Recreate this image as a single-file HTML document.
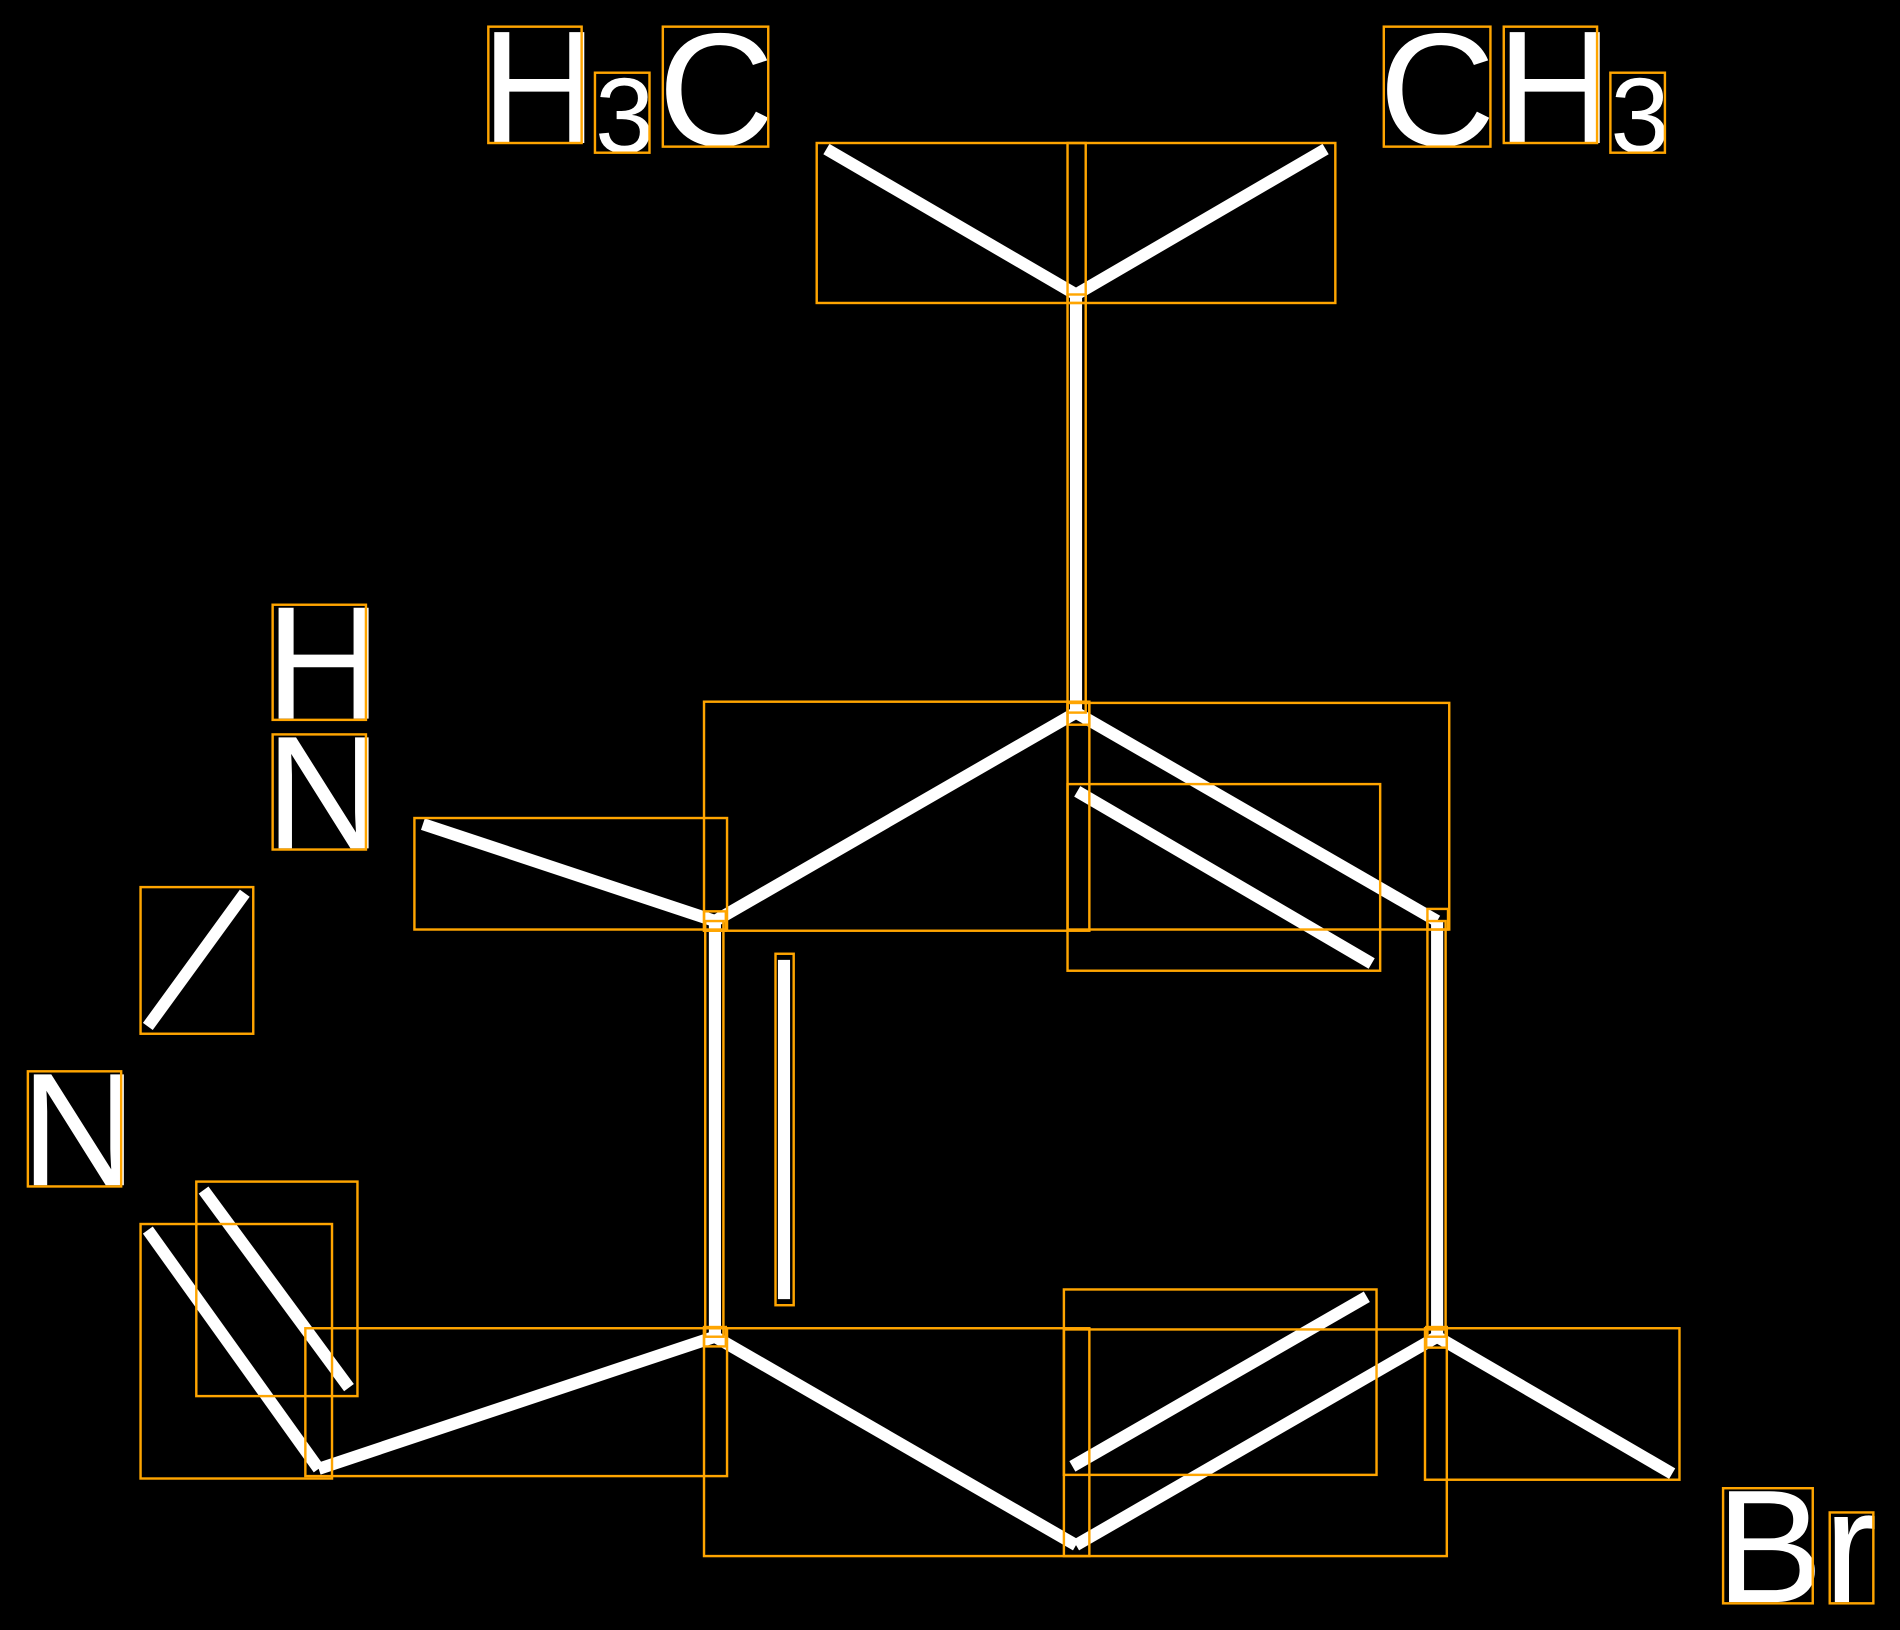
<!DOCTYPE html>
<html><head><meta charset="utf-8"><style>html,body{margin:0;padding:0;background:#000}svg{display:block}</style></head>
<body>
<svg width="1900" height="1630" viewBox="0 0 1568 1345" preserveAspectRatio="none" xmlns="http://www.w3.org/2000/svg">
<rect width="1568" height="1345" fill="#000"/>
<g stroke="#fff" stroke-width="10" fill="none">
<line x1="682" y1="123" x2="888" y2="243"/>
<line x1="888" y1="243" x2="1094" y2="123"/>
<line x1="888" y1="243" x2="888" y2="588"/>
<line x1="590" y1="760" x2="888" y2="588"/>
<line x1="888" y1="588" x2="1186" y2="760"/>
<line x1="889" y1="653" x2="1132" y2="795"/>
<line x1="590" y1="760" x2="590" y2="1103"/>
<line x1="647" y1="792" x2="647" y2="1072"/>
<line x1="1186" y1="760" x2="1186" y2="1103"/>
<line x1="590" y1="1103" x2="888" y2="1275"/>
<line x1="888" y1="1275" x2="1186" y2="1103"/>
<line x1="885" y1="1210" x2="1128" y2="1070"/>
<line x1="1186" y1="1103" x2="1380" y2="1216"/>
<line x1="590" y1="760" x2="349" y2="680"/>
<line x1="590" y1="1103" x2="263" y2="1212"/>
<line x1="263" y1="1212" x2="122" y2="1015"/>
<line x1="168" y1="982" x2="288" y2="1145"/>
<line x1="122" y1="847" x2="202" y2="737"/>
</g>
<g fill="#fff" font-family="Liberation Sans, sans-serif" font-size="133">
<text x="397" y="118">H</text>
<text x="491" y="126" font-size="88">3</text>
<text x="543" y="120">C</text>
<text x="1138" y="120">C</text>
<text x="1235" y="118">H</text>
<text x="1329" y="126" font-size="88">3</text>
<text x="219" y="593">H</text>
<text x="219" y="700">N</text>
<text x="17" y="978">N</text>
<text x="1416" y="1322">B</text>
<text x="1505" y="1322">r</text>
</g>
<g stroke="#FFA500" stroke-width="2" fill="none">
<rect x="403" y="22" width="77" height="96"/>
<rect x="491" y="60" width="45" height="66"/>
<rect x="547" y="22" width="87" height="99"/>
<rect x="1142" y="22" width="88" height="99"/>
<rect x="1241" y="22" width="77" height="96"/>
<rect x="1329" y="60" width="45" height="66"/>
<rect x="674" y="118" width="428" height="132"/>
<rect x="881" y="118" width="15" height="132"/>
<rect x="881" y="243" width="15" height="345"/>
<rect x="581" y="579" width="318" height="189"/>
<rect x="881" y="580" width="315" height="187"/>
<rect x="881" y="647" width="258" height="154"/>
<rect x="342" y="675" width="258" height="92"/>
<rect x="225" y="499" width="77" height="95"/>
<rect x="225" y="606" width="77" height="95"/>
<rect x="116" y="732" width="93" height="121"/>
<rect x="23" y="884" width="77" height="95"/>
<rect x="162" y="975" width="133" height="177"/>
<rect x="116" y="1010" width="158" height="210"/>
<rect x="252" y="1096" width="348" height="122"/>
<rect x="581" y="1096" width="318" height="188"/>
<rect x="878" y="1097" width="316" height="187"/>
<rect x="878" y="1064" width="258" height="153"/>
<rect x="1176" y="1096" width="210" height="125"/>
<rect x="640" y="787" width="15" height="290"/>
<rect x="582" y="760" width="15" height="343"/>
<rect x="1178" y="760" width="15" height="343"/>
<rect x="581" y="752" width="18" height="16"/>
<rect x="1178" y="750" width="17" height="17"/>
<rect x="881" y="580" width="18" height="18"/>
<rect x="581" y="1095" width="18" height="16"/>
<rect x="1177" y="1095" width="17" height="17"/>
<rect x="1422" y="1228" width="74" height="95"/>
<rect x="1510" y="1248" width="36" height="75"/>
</g>
</svg>
</body></html>
